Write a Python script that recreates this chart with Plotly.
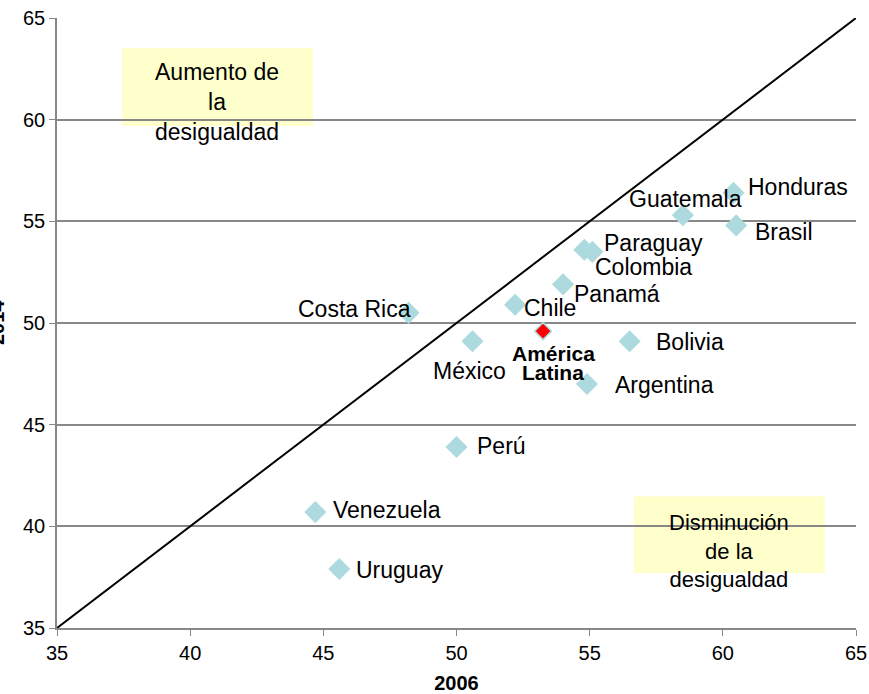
import plotly.graph_objects as go

countries = ["Honduras", "Guatemala", "Brasil", "Paraguay", "Colombia", "Panamá", "Chile",
             "Costa Rica", "México", "Bolivia", "Argentina", "Perú", "Venezuela", "Uruguay"]
gini_2006 = [60.4, 58.5, 60.5, 54.8, 55.1, 54.0, 52.2, 48.2, 50.6, 56.5, 54.9, 50.0, 44.7, 45.6]
gini_2014 = [56.4, 55.3, 54.8, 53.6, 53.5, 51.9, 50.9, 50.5, 49.1, 49.1, 47.0, 43.9, 40.7, 37.9]

region_name_lines = ["América", "Latina"]
region_2006 = [53.25]
region_2014 = [49.6]

diag = [35, 65]
x_ticks = [35, 40, 45, 50, 55, 60, 65]
y_ticks = [35, 40, 45, 50, 55, 60, 65]

# label offsets in pixels (styling)
label_dx = [65, 3, 48, 69, 51, 54, 35, -54, -3, 60, 77, 45, 72, 60]
label_dy = [6, 16, -7, 7, -15, -10, -3, 4, -30, -1, -1, 1, 2, -1]
region_label_dy = [-22, -41]

FONT = "Liberation Sans, Arial, sans-serif"
fig = go.Figure()

fig.add_trace(go.Scatter(x=diag, y=diag, mode="lines",
                         line=dict(color="black", width=2), hoverinfo="skip", showlegend=False))
fig.add_trace(go.Scatter(x=gini_2006, y=gini_2014, mode="markers",
                         marker=dict(symbol="diamond", size=17, color="#ADDADE"),
                         showlegend=False))
fig.add_trace(go.Scatter(x=region_2006, y=region_2014, mode="markers",
                         marker=dict(symbol="diamond", size=13, color="#FF0000",
                                     line=dict(color="#ADDADE", width=1.5)),
                         showlegend=False))

for name, x, y, dx, dy in zip(countries, gini_2006, gini_2014, label_dx, label_dy):
    fig.add_annotation(x=x, y=y, text=name, showarrow=False, xshift=dx, yshift=dy,
                       xanchor="center", yanchor="middle",
                       font=dict(family=FONT, size=23, color="black"))
for line, dy in zip(region_name_lines, region_label_dy):
    fig.add_annotation(x=region_2006[0], y=region_2014[0], text="<b>" + line + "</b>",
                       showarrow=False, xshift=10, yshift=dy, xanchor="center", yanchor="middle",
                       font=dict(family=FONT, size=21, color="black"))

# yellow boxes
fig.add_shape(type="rect", xref="paper", yref="paper", x0=0.0814, x1=0.3204, y0=0.823, y1=0.951,
              fillcolor="#FFFFCC", line=dict(width=0), layer="below")
fig.add_shape(type="rect", xref="paper", yref="paper", x0=0.722, x1=0.961, y0=0.090, y1=0.216,
              fillcolor="#FFFFCC", line=dict(width=0), layer="below")
fig.add_annotation(xref="paper", yref="paper", x=0.2003, y=0.862, text="Aumento de<br>la<br>desigualdad",
                   showarrow=False, xanchor="center", yanchor="middle",
                   font=dict(family=FONT, size=23, color="black"), align="center")
fig.add_annotation(xref="paper", yref="paper", x=0.841, y=0.126, text="Disminución<br>de la<br>desigualdad",
                   showarrow=False, xanchor="center", yanchor="middle",
                   font=dict(family=FONT, size=22, color="black"), align="center")

# y title partially cut off at the left edge (as in the reference)
fig.add_annotation(xref="paper", yref="paper", x=0, y=0.5, xshift=-60, text="<b>2014</b>",
                   xanchor="center", yanchor="middle",
                   textangle=-90, showarrow=False, font=dict(family=FONT, size=20, color="black"))

fig.update_layout(
    width=869, height=694,
    margin=dict(l=57, r=13, t=18, b=66, autoexpand=False),
    plot_bgcolor="white", paper_bgcolor="white",
    font=dict(family=FONT, size=20, color="black"),
    xaxis=dict(range=[35, 65], tickvals=x_ticks, showgrid=False, zeroline=False,
               showline=True, linecolor="#888888", linewidth=1.5, ticks="outside",
               ticklen=6, tickcolor="#888888", automargin=False,
               title=dict(text="<b>2006</b>", font=dict(size=20), standoff=14)),
    yaxis=dict(range=[35, 65], tickvals=y_ticks, showgrid=True, gridcolor="#888888", gridwidth=1.5,
               zeroline=False, showline=True, linecolor="#888888", linewidth=1.5,
               ticks="outside", ticklen=6, tickcolor="#888888", automargin=False),
)

fig.write_html("out.html", config={"displayModeBar": False},
               post_script="document.body.style.margin='0';")
